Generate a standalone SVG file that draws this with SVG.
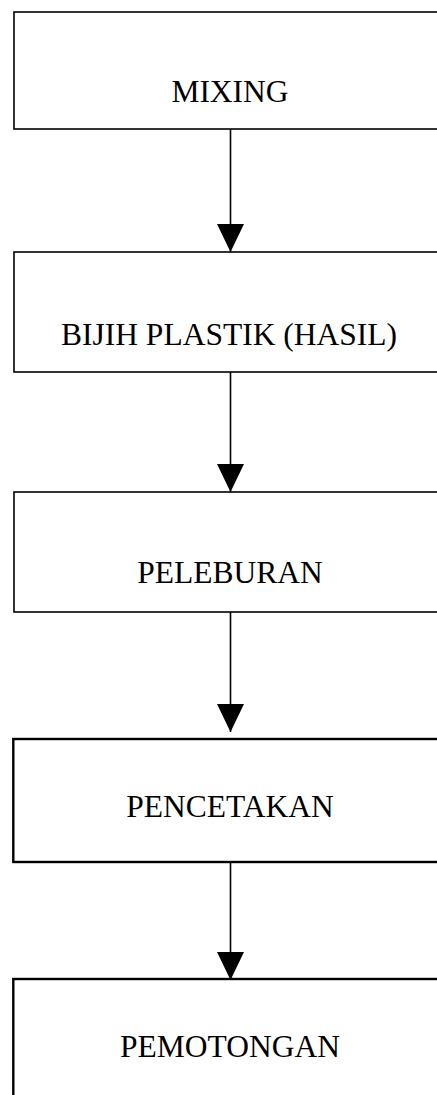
<svg xmlns="http://www.w3.org/2000/svg" width="437" height="1095" viewBox="0 0 437 1095">
  <style>
    .box { fill: #ffffff; stroke: #000000; stroke-width: 1.6; }
    .box2 { fill: #ffffff; stroke: #000000; stroke-width: 2.4; }
    .lbl { font-family: "Liberation Serif", "Times New Roman", serif; font-size: 31.5px; fill: #000000; text-anchor: middle; }
    .conn { stroke: #000000; stroke-width: 1.6; fill: none; }
  </style>
  <defs>
    <marker id="arrow" markerUnits="userSpaceOnUse" markerWidth="28" markerHeight="27" viewBox="0 0 28 27" refX="28" refY="13.5" orient="auto">
      <path d="M0,0 L28,13.5 L0,27 Z" fill="#000000"/>
    </marker>
  </defs>
  <rect x="0" y="0" width="437" height="1095" fill="#ffffff"/>
  <g id="node-mixing">
    <rect class="box" x="14" y="12" width="440" height="117"/>
    <text class="lbl" x="230" y="102">MIXING</text>
  </g>
  <g id="node-bijih">
    <rect class="box" x="14" y="252" width="440" height="120"/>
    <text class="lbl" x="229" y="345">BIJIH PLASTIK (HASIL)</text>
  </g>
  <g id="node-peleburan">
    <rect class="box" x="14" y="492" width="440" height="120"/>
    <text class="lbl" x="230" y="583">PELEBURAN</text>
  </g>
  <g id="node-pencetakan">
    <rect class="box2" x="13.3" y="739" width="440" height="123"/>
    <text class="lbl" x="230" y="817">PENCETAKAN</text>
  </g>
  <g id="node-pemotongan">
    <rect class="box2" x="13.3" y="979" width="440" height="130"/>
    <text class="lbl" x="230" y="1057">PEMOTONGAN</text>
  </g>
  <g id="connectors">
    <line class="conn" x1="230.5" y1="129" x2="230.5" y2="252" marker-end="url(#arrow)"/>
    <line class="conn" x1="230.5" y1="372" x2="230.5" y2="492" marker-end="url(#arrow)"/>
    <line class="conn" x1="230.5" y1="612" x2="230.5" y2="732" marker-end="url(#arrow)"/>
    <line class="conn" x1="230.5" y1="862" x2="230.5" y2="980" marker-end="url(#arrow)"/>
  </g>
</svg>
